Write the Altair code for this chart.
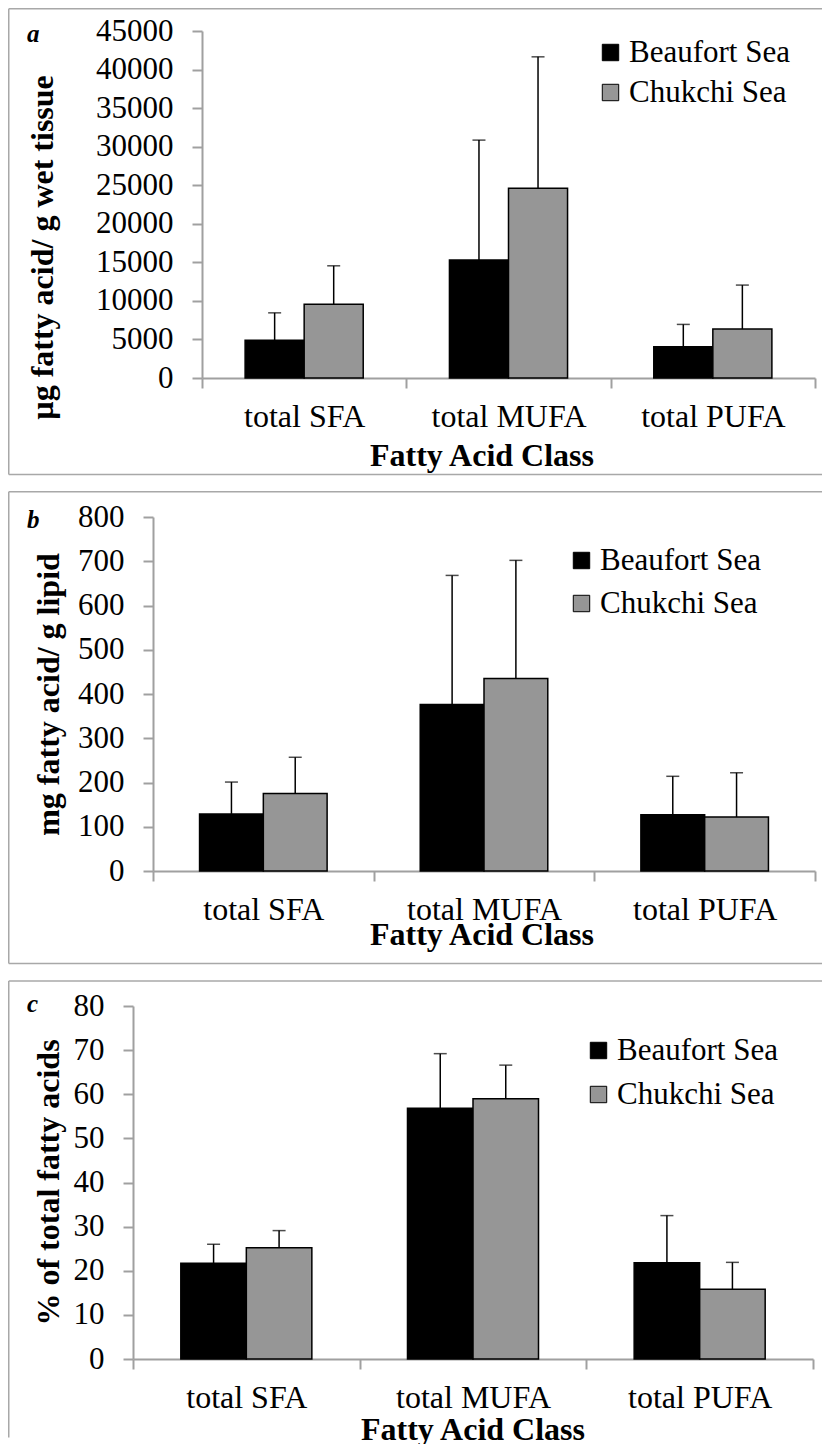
import altair as alt
import pandas as pd

categories = ["total SFA", "total MUFA", "total PUFA"]
series = ["Beaufort Sea", "Chukchi Sea"]

# panel a: µg fatty acid / g wet tissue
a_beaufort = [4900, 15300, 4050]
a_beaufort_err = [3550, 15550, 2900]
a_chukchi = [9550, 24600, 6350]
a_chukchi_err = [5000, 17050, 5700]

# panel b: mg fatty acid / g lipid
b_beaufort = [129, 376, 127]
b_beaufort_err = [72, 292, 87]
b_chukchi = [175, 435, 122]
b_chukchi_err = [82, 267, 100]

# panel c: % of total fatty acids
c_beaufort = [21.7, 56.8, 21.8]
c_beaufort_err = [4.3, 12.4, 10.7]
c_chukchi = [25.2, 59.0, 15.8]
c_chukchi_err = [3.9, 7.6, 6.1]

FONT = "Liberation Serif"
AXIS_GRAY = "#a0a0a0"
FRAME_GRAY = "#a8a8a8"
BAR_COLORS = ["#000000", "#969696"]
PLOT_W = 682


def build(mb, eb, mc, ec):
    rows = []
    for i, cat in enumerate(categories):
        rows.append({"cat": cat, "series": series[0], "mean": mb[i], "upper": mb[i] + eb[i]})
        rows.append({"cat": cat, "series": series[1], "mean": mc[i], "upper": mc[i] + ec[i]})
    return pd.DataFrame(rows)


def panel(df, letter, ytitle, ymax, ystep, h, xr0, xr1, ytx, yty, xtx, xty,
          legx, legy, rowpad, ft, fb, letter_y, bottom=True):
    fl, fr = -124.25, 689
    xaxis = alt.Axis(
        title="Fatty Acid Class", labelAngle=0, tickBand="extent",
        domainColor=AXIS_GRAY, domainWidth=2, tickColor=AXIS_GRAY, tickWidth=2,
        tickSize=10, labelFont=FONT, labelFontSize=32, labelColor="black",
        labelPadding=38, labelBaseline="alphabetic",
        titleFont=FONT, titleFontSize=32, titleFontWeight="bold", titleColor="black",
        titleX=xtx, titleY=xty, titleBaseline="alphabetic", titleAlign="center",
    )
    yscale = alt.Scale(domain=[0, ymax], nice=False, zero=True)
    yaxis = alt.Axis(
        title=ytitle, values=list(range(0, ymax + 1, ystep)), format="d", grid=False,
        offset=-xr0,
        domainColor=AXIS_GRAY, domainWidth=2, tickColor=AXIS_GRAY, tickWidth=2,
        tickSize=10, labelFont=FONT, labelFontSize=31, labelColor="black",
        labelPadding=19,
        titleFont=FONT, titleFontSize=32, titleFontWeight="bold", titleColor="black",
        titleX=ytx, titleY=yty, titleBaseline="alphabetic", titleAlign="center",
        titleAngle=270,
    )
    x = alt.X("cat:N", sort=categories,
              scale=alt.Scale(paddingInner=0, paddingOuter=0, range=[xr0, xr1]), axis=xaxis)
    xo = alt.XOffset("series:N", sort=series, scale=alt.Scale(paddingInner=0, paddingOuter=0.73))
    color = alt.Color(
        "series:N", sort=series,
        scale=alt.Scale(domain=series, range=BAR_COLORS),
        legend=alt.Legend(
            title=None, orient="none", legendX=legx, legendY=legy, padding=0,
            symbolType="square", symbolSize=270, symbolStrokeColor="black",
            symbolStrokeWidth=1, labelFont=FONT, labelFontSize=31, labelColor="black",
            labelOffset=3, rowPadding=rowpad, labelLimit=400,
        ),
    )
    base = alt.Chart(df)
    bars = base.mark_bar(stroke="black", strokeWidth=1.5).encode(
        x=x, xOffset=xo, y=alt.Y("mean:Q", scale=yscale, axis=yaxis), color=color
    )
    err = base.mark_rule(color="black", strokeWidth=1.5).encode(
        x=x, xOffset=xo, y=alt.Y("mean:Q", scale=yscale, axis=yaxis), y2="upper:Q"
    )
    cap = base.mark_tick(color="black", thickness=1.5, size=13).encode(
        x=x, xOffset=xo, y=alt.Y("upper:Q", scale=yscale, axis=yaxis)
    )
    one = alt.Data(values=[{}])
    frame_left = alt.Chart(one).mark_rule(color=FRAME_GRAY, strokeWidth=1.5).encode(
        x=alt.value(fl), y=alt.value(ft), y2=alt.value(fb)
    )
    frame_top = alt.Chart(one).mark_rule(color=FRAME_GRAY, strokeWidth=1.5).encode(
        x=alt.value(fl), x2=alt.value(fr), y=alt.value(ft)
    )
    layers = [bars, err, cap, frame_left, frame_top]
    if bottom:
        frame_bottom = alt.Chart(one).mark_rule(color=FRAME_GRAY, strokeWidth=1.5).encode(
            x=alt.value(fl), x2=alt.value(fr), y=alt.value(fb)
        )
        layers.append(frame_bottom)
    lab = alt.Chart(one).mark_text(
        text=letter, font=FONT, fontSize=25, fontStyle="italic", fontWeight="bold",
        align="left", baseline="alphabetic", color="black"
    ).encode(x=alt.value(-106), y=alt.value(letter_y))
    layers.append(lab)
    return alt.layer(*layers).properties(width=PLOT_W, height=h).resolve_scale(
        xOffset="shared"
    )


# plot origin for every panel is at page x = 133
pa = panel(build(a_beaufort, a_beaufort_err, a_chukchi, a_chukchi_err),
           "a", "µg fatty acid/ g wet tissue", 45000, 5000, 347, 69, 682,
           -150, 216, 348.5, 87, 462, 6, 8,
           -22.25, 443.5, 11)
pb = panel(build(b_beaufort, b_beaufort_err, b_chukchi, b_chukchi_err),
           "b", "mg fatty acid/ g lipid", 800, 100, 354, 20, 682,
           -95, 177, 348.5, 73, 433, 28, 11,
           -25.2, 446.5, 11)
pc = panel(build(c_beaufort, c_beaufort_err, c_chukchi, c_chukchi_err),
           "c", "% of total fatty acids", 80, 10, 353, 0, 680,
           -75, 176, 339.5, 80, 450, 29, 12,
           -25, 431.5, 6, bottom=False)

chart = alt.vconcat(pa, pb, pc, spacing=15).properties(
    padding=0, background="white"
).resolve_scale(color="independent", xOffset="independent").configure(
    font=FONT
).configure_view(stroke=None).configure_legend(labelFont=FONT).configure_axis(
    labelFont=FONT, titleFont=FONT
)

chart.save("out.html", embed_options={"renderer": "svg", "actions": False})
